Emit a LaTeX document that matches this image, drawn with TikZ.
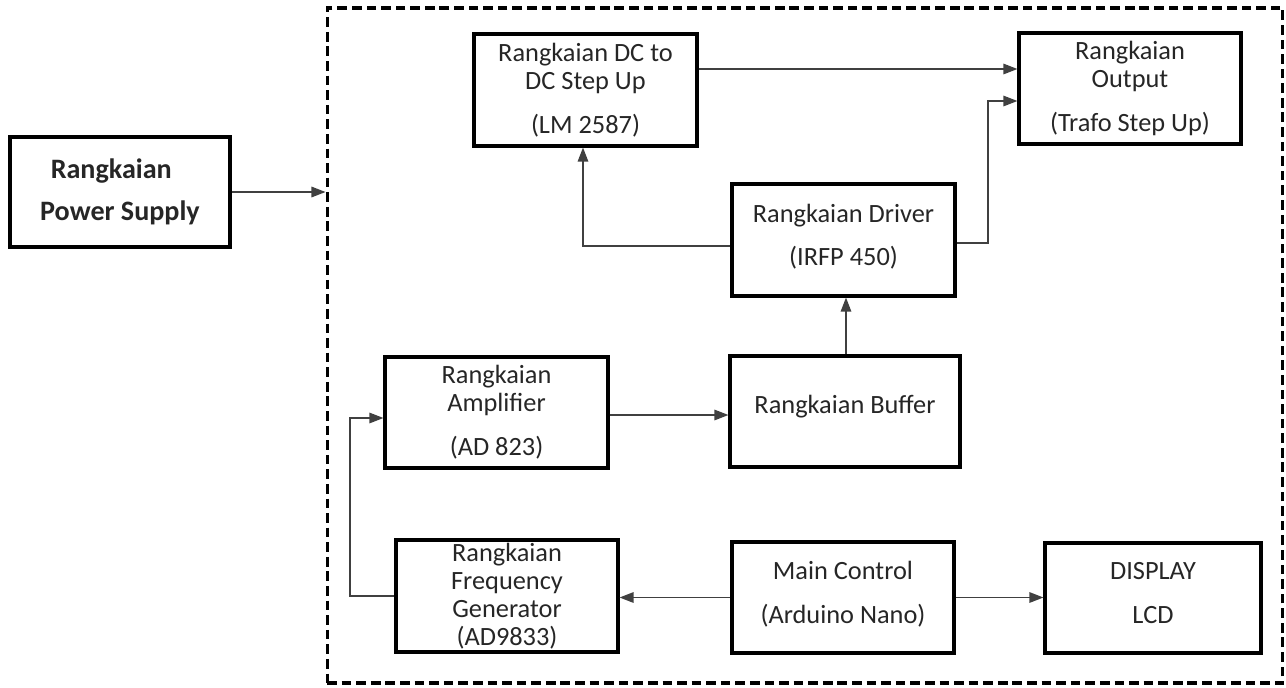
\documentclass[tikz,border=0pt]{standalone}
\usepackage{fontspec}
\setmainfont{Carlito}
\usepackage{tikz}
\usetikzlibrary{
    arrows.meta,
}

\begin{document}
\begin{tikzpicture}[
    x=0.02cm, y=-0.02cm,
    block/.style={draw=black, line width=1.8pt, align=center, inner sep=0pt,
        minimum width=4.44cm, minimum height=2.22cm, text=black!85,
        font=\fontsize{15}{15.9}\selectfont},
    wire/.style={draw=black!75, line width=0.8pt},
    arr/.style={wire, -{Triangle[length=8pt,width=6pt]}},
]
    % \draw[help lines] grid (1286,687);
    \useasboundingbox (0,0) rectangle (1286,687);

    % System border
    \node[draw, line width=1.8pt, dash pattern=on 5.5pt off 2.8pt,
        minimum width=19.12cm, minimum height=13.5cm, inner sep=0pt] (sys) at (805,345.5) {};

    % Power supply
    \node[block, minimum width=4.4cm, minimum height=2.2cm, align=left,
        font=\fontsize{16}{17}\selectfont\bfseries] (ps) at (120,192)
        {\hspace*{6pt}Rangkaian\\[7pt]Power Supply};

    % Top row
    \node[block, minimum width=4.46cm, minimum height=2.24cm] (dc) at (585.5,90)
        {Rangkaian DC to\\DC Step Up\\[9pt](LM 2587)};
    \node[block] (out) at (1130,88.5)
        {Rangkaian\\Output\\[9pt](Trafo Step Up)};

    % Middle
    \node[block, minimum width=4.46cm, minimum height=2.24cm] (drv) at (843.5,240)
        {Rangkaian Driver\\[9pt](IRFP 450)\\[-10pt]};
    \node[block, minimum width=4.46cm] (amp) at (496.5,412.5)
        {Rangkaian\\Amplifier\\[9pt](AD 823)};
    \node[block, minimum width=4.6cm] (buf) at (845,411.5)
        {Rangkaian Buffer\\[-8pt]};

    % Bottom row
    \node[block, minimum height=2.24cm] (freq) at (507,596)
        {Rangkaian\\Frequency\\Generator\\(AD9833)};
    \node[block] (main) at (843,597.5)
        {Main Control\\[9pt](Arduino Nano)\\[-10pt]};
    \node[block, minimum width=4.32cm, minimum height=2.2cm] (disp) at (1153,598)
        {DISPLAY\\[9pt]LCD\\[-10pt]};

    % Connections
    \draw[arr] (ps.east) -- (ps.east -| sys.west);
    \draw[arr] (dc.east |- 0,69) -- (out.west |- 0,69);
    \draw[arr] (drv.east |- 0,243) -| (988,101) -- (out.west |- 0,101);
    \draw[arr] (drv.west |- 0,246) -| (dc.south -| 583,0);
    \draw[arr] (buf.north -| 846,0) -- (drv.south -| 846,0);
    \draw[arr] (amp.east |- 0,415) -- (buf.west |- 0,415);
    \draw[arr] (freq.west) -| (350,418) -- (amp.west |- 0,418);
    \draw[arr] (main.west) -- (freq.east |- main.west);
    \draw[arr] (main.east) -- (disp.west |- main.east);

\end{tikzpicture}
\end{document}
